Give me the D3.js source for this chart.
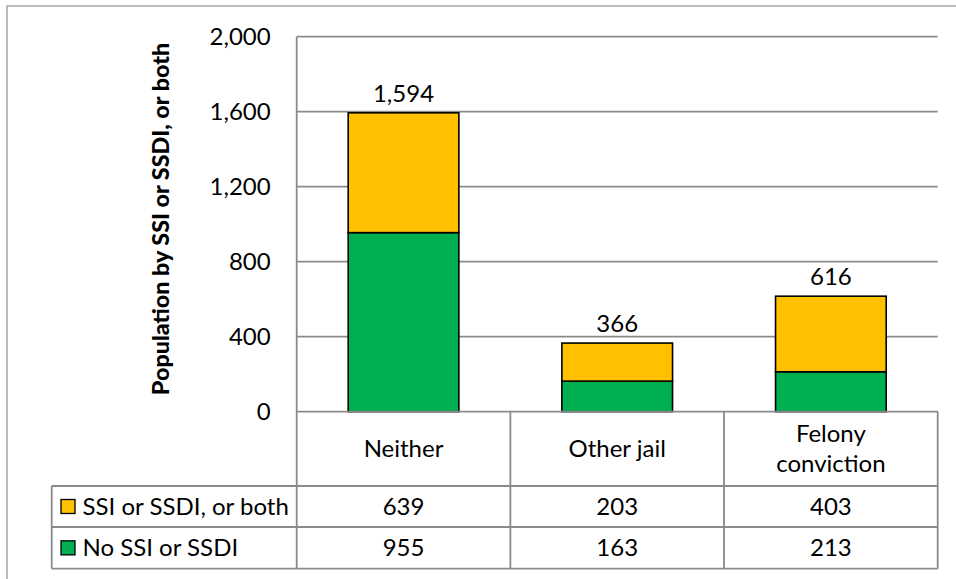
<!DOCTYPE html>
<html><head><meta charset="utf-8">
<script src="https://cdn.jsdelivr.net/npm/d3@7"></script>
<style>
html,body{margin:0;padding:0;background:#fff;}
svg{display:block;font-family:Lato,"Open Sans",sans-serif;}
</style></head>
<body>
<svg id="chart" width="956" height="579"></svg>
<script>
const categories = ["Neither", "Other jail", "Felony conviction"];
const categoryLines = [["Neither"], ["Other jail"], ["Felony", "conviction"]];
const seriesNames = ["No SSI or SSDI", "SSI or SSDI, or both"];
const noSsi = [955, 163, 213];
const ssiOrBoth = [639, 203, 403];
const totals = [1594, 366, 616];
const yTicks = [0, 400, 800, 1200, 1600, 2000];
const colors = {"No SSI or SSDI": "#00B050", "SSI or SSDI, or both": "#FFC000"};
const axisTitle = "Population by SSI or SSDI, or both";

const svg = d3.select("#chart");
const FS = 24;
const gridColor = "#8a8a8a";

const plotLeft = 296.7, plotRight = 937.7, plotTop = 36.7, plotBottom = 411.7;
const catRowBottom = 486, row1Bottom = 527, row2Bottom = 568.7, legendLeft = 51.7;

// chart outer border
svg.append("path").attr("d", `M7,600 V6 H960`).attr("fill","none").attr("stroke","#a6a6a6").attr("stroke-width",1.5);

const x = d3.scaleBand().domain(categories).range([plotLeft, plotRight]).padding(0);
const y = d3.scaleLinear().domain([0, 2000]).range([plotBottom, plotTop]);
const barW = x.bandwidth() * 0.518;

// gridlines
svg.append("g").selectAll("line").data(yTicks.filter(d => d > 0)).join("line")
  .attr("x1", plotLeft).attr("x2", plotRight)
  .attr("y1", d => y(d)).attr("y2", d => y(d))
  .attr("stroke", gridColor).attr("stroke-width", 1.8);

// y axis labels
const yAxis = d3.axisLeft(y).tickValues(yTicks).tickSize(0).tickPadding(26).tickFormat(d3.format(","));
const ga = svg.append("g").attr("transform", `translate(${plotLeft},0)`).call(yAxis);
ga.select(".domain").remove();
ga.selectAll("text").attr("font-family", "Lato").attr("font-size", FS).attr("fill", "#000");

// stacked bars
const rows = categories.map((c, i) => ({cat: c, "No SSI or SSDI": noSsi[i], "SSI or SSDI, or both": ssiOrBoth[i]}));
const stack = d3.stack().keys(seriesNames)(rows);
svg.append("g").selectAll("g").data(stack).join("g")
  .attr("fill", d => colors[d.key])
  .selectAll("rect").data(d => d).join("rect")
  .attr("x", d => x(d.data.cat) + (x.bandwidth() - barW) / 2)
  .attr("width", barW)
  .attr("y", d => y(d[1]))
  .attr("height", d => y(d[0]) - y(d[1]))
  .attr("stroke", "#000").attr("stroke-width", 1.6);

// total labels
svg.append("g").selectAll("text").data(categories).join("text")
  .attr("x", d => x(d) + x.bandwidth() / 2)
  .attr("y", (d, i) => y(totals[i]) - 11)
  .attr("text-anchor", "middle").attr("font-size", FS).attr("fill", "#000")
  .text((d, i) => d3.format(",")(totals[i]));

// axis title
svg.append("text")
  .attr("transform", `translate(169,219) rotate(-90)`)
  .attr("text-anchor", "middle").attr("font-weight", "900").attr("font-size", 23.3)
  .attr("fill", "#000").text(axisTitle);

// data table lines
const tl = svg.append("g").attr("stroke", gridColor).attr("stroke-width", 1.8).attr("fill", "none");
tl.append("line").attr("x1", plotLeft).attr("x2", plotLeft).attr("y1", plotTop).attr("y2", row2Bottom);
tl.append("line").attr("x1", plotLeft).attr("x2", plotRight).attr("y1", plotBottom).attr("y2", plotBottom);
const colEdges = categories.map(c => x(c) + x.bandwidth());
tl.selectAll(".cv").data(colEdges).join("line")
  .attr("x1", d => d).attr("x2", d => d).attr("y1", plotBottom).attr("y2", row2Bottom);
[catRowBottom, row1Bottom, row2Bottom].forEach(yy => {
  tl.append("line").attr("x1", legendLeft).attr("x2", plotRight).attr("y1", yy).attr("y2", yy);
});
tl.append("line").attr("x1", legendLeft).attr("x2", legendLeft).attr("y1", catRowBottom).attr("y2", row2Bottom);

// category labels
const catG = svg.append("g").selectAll("text").data(categories).join("text")
  .attr("text-anchor", "middle").attr("font-size", FS).attr("fill", "#000");
catG.each(function(d, i) {
  const lines = categoryLines[i];
  const cx = x(d) + x.bandwidth() / 2;
  const mid = (plotBottom + catRowBottom) / 2;
  const lh = 30;
  const start = mid - (lines.length - 1) * lh / 2;
  d3.select(this).selectAll("tspan").data(lines).join("tspan")
    .attr("x", cx).attr("y", (l, j) => start + j * lh).attr("dy", "0.35em").text(l => l);
});

// table value rows
const tableRows = [
  {name: "SSI or SSDI, or both", vals: ssiOrBoth, top: catRowBottom, bottom: row1Bottom},
  {name: "No SSI or SSDI", vals: noSsi, top: row1Bottom, bottom: row2Bottom}
];
tableRows.forEach(r => {
  const my = (r.top + r.bottom) / 2;
  svg.append("g").selectAll("text").data(categories).join("text")
    .attr("x", d => x(d) + x.bandwidth() / 2).attr("y", my).attr("dy", "0.35em")
    .attr("text-anchor", "middle").attr("font-size", FS).attr("fill", "#000")
    .text((d, i) => d3.format(",")(r.vals[i]));
  svg.append("rect").attr("x", 61).attr("y", my - 7).attr("width", 14).attr("height", 14)
    .attr("fill", colors[r.name]).attr("stroke", "#000").attr("stroke-width", 1.3);
  svg.append("text").attr("x", 82.5).attr("y", my).attr("dy", "0.35em")
    .attr("font-size", FS).attr("fill", "#000").text(r.name);
});
</script>
</body></html>
